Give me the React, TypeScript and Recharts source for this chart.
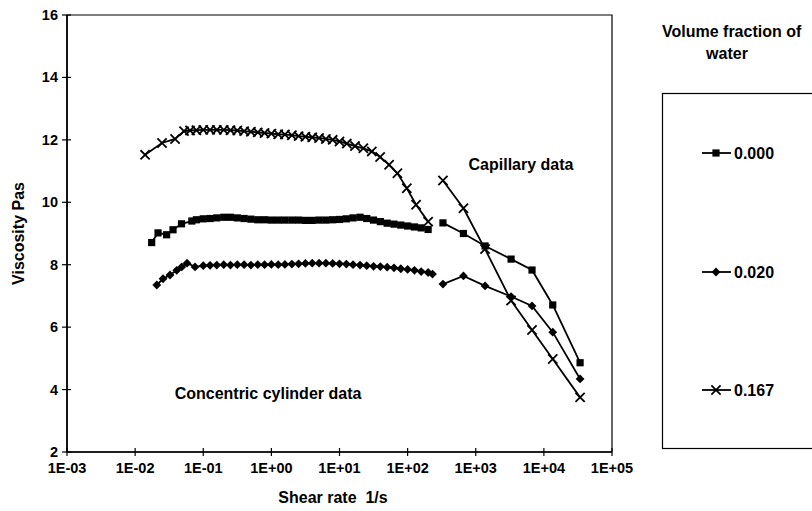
import React from "react"
import { LineChart, Line, XAxis, YAxis, ReferenceArea } from "recharts"

// shear rate ticks (1/s) and viscosity ticks (Pa s)
const xTicks = [1e-3, 1e-2, 1e-1, 1, 1e1, 1e2, 1e3, 1e4, 1e5]
const yTicks = [2, 4, 6, 8, 10, 12, 14, 16]

// concentric cylinder data
const concRate000 = [0.0175, 0.0217, 0.029, 0.036, 0.048, 0.068, 0.0794, 0.1, 0.126, 0.158, 0.2, 0.251, 0.316, 0.398, 0.501, 0.631, 0.794, 1, 1.26, 1.58, 2, 2.51, 3.16, 3.98, 5.01, 6.31, 7.94, 10, 12.6, 15.8, 20, 25.1, 31.6, 39.8, 50.1, 63.1, 79.4, 100, 126, 158, 200]
const concVisc000 = [8.71, 9.02, 8.96, 9.12, 9.31, 9.4, 9.44, 9.47, 9.48, 9.5, 9.52, 9.52, 9.5, 9.48, 9.46, 9.44, 9.44, 9.43, 9.43, 9.43, 9.43, 9.43, 9.42, 9.42, 9.43, 9.43, 9.44, 9.45, 9.47, 9.5, 9.52, 9.48, 9.43, 9.38, 9.33, 9.3, 9.27, 9.24, 9.21, 9.18, 9.13]

const concRate020 = [0.0208, 0.0257, 0.0325, 0.0408, 0.0483, 0.0578, 0.0758, 0.1, 0.126, 0.158, 0.2, 0.251, 0.316, 0.398, 0.501, 0.631, 0.794, 1, 1.26, 1.58, 2, 2.51, 3.16, 3.98, 5.01, 6.31, 7.94, 10, 12.6, 15.8, 20, 25.1, 31.6, 39.8, 50.1, 63.1, 79.4, 100, 126, 158, 200, 232]
const concVisc020 = [7.35, 7.55, 7.67, 7.82, 7.93, 8.05, 7.93, 7.97, 7.98, 7.99, 8.0, 7.99, 8.0, 8.0, 7.99, 8.0, 8.0, 8.01, 8.0, 8.01, 8.02, 8.03, 8.04, 8.05, 8.05, 8.05, 8.04, 8.03, 8.02, 8.0, 7.99, 7.97, 7.95, 7.94, 7.92, 7.9, 7.87, 7.85, 7.82, 7.78, 7.75, 7.7]

const concRate167 = [0.014, 0.0248, 0.0386, 0.0522, 0.0639, 0.0794, 0.1, 0.126, 0.158, 0.2, 0.251, 0.316, 0.398, 0.501, 0.631, 0.794, 1, 1.26, 1.58, 2, 2.51, 3.16, 3.98, 5.01, 6.31, 7.94, 10, 12.8, 16.9, 22.4, 29.8, 39.5, 53.5, 70.8, 97.3, 133, 200]
const concVisc167 = [11.52, 11.9, 12.03, 12.28, 12.3, 12.31, 12.32, 12.32, 12.32, 12.32, 12.31, 12.3, 12.28, 12.26, 12.24, 12.22, 12.2, 12.18, 12.17, 12.15, 12.12, 12.1, 12.08, 12.06, 12.03, 12.0, 11.95, 11.88, 11.8, 11.73, 11.63, 11.45, 11.2, 10.93, 10.45, 9.92, 9.38]

// capillary data
const capRate = [330, 660, 1370, 3300, 6700, 13500, 34000]
const capVisc000 = [9.34, 9.0, 8.6, 8.18, 7.83, 6.71, 4.86]
const capVisc020 = [7.38, 7.64, 7.32, 6.98, 6.68, 5.84, 4.34]
const capVisc167 = [10.7, 9.81, 8.5, 6.85, 5.91, 4.98, 3.75]

const seriesNames = ["0.000", "0.020", "0.167"]

const FONT = '"Liberation Sans", Arial, Helvetica, sans-serif'
const LEFT = 67
const TOP = 15
const RIGHT = 612
const BOTTOM = 452
const Y_AXIS_W = 40
const X_AXIS_H = 30

const toPoints = (xs: number[], ys: number[]) => xs.map((x, i) => ({ x, y: ys[i] }))

function Square({ cx, cy }: { cx: number; cy: number }) {
  return <rect x={cx - 3.6} y={cy - 3.6} width={7.2} height={7.2} fill="#000" />
}
function Diamond({ cx, cy }: { cx: number; cy: number }) {
  return <path d={`M${cx},${cy - 4.4}L${cx + 4.4},${cy}L${cx},${cy + 4.4}L${cx - 4.4},${cy}Z`} fill="#000" />
}
function Cross({ cx, cy }: { cx: number; cy: number }) {
  const r = 4.6
  return (
    <path
      d={`M${cx - r},${cy - r}L${cx + r},${cy + r}M${cx - r},${cy + r}L${cx + r},${cy - r}`}
      stroke="#000"
      strokeWidth={1.8}
      fill="none"
    />
  )
}

const markers = [Square, Diamond, Cross]

const makeDot = (kind: number, tag: string) => (p: any) => {
  const M = markers[kind]
  if (p.cx == null || p.cy == null) return <g key={`${tag}-${p.index}`} />
  return (
    <g key={`${tag}-${p.index}`}>
      <M cx={p.cx} cy={p.cy} />
    </g>
  )
}

const fmtRate = (v: number) => {
  const e = Math.round(Math.log10(v))
  return `1E${e < 0 ? "-" : "+"}${String(Math.abs(e)).padStart(2, "0")}`
}

function XTick(props: any) {
  const { x, payload } = props
  return (
    <g>
      <line x1={x} x2={x} y1={BOTTOM - 4} y2={BOTTOM + 4} stroke="#000" strokeWidth={1.2} />
      <text x={x} y={468} textAnchor="middle" dominantBaseline="central" fontFamily={FONT} fontWeight="bold" fontSize={14.5} fill="#000">
        {fmtRate(payload.value)}
      </text>
    </g>
  )
}

function YTick(props: any) {
  const { y, payload } = props
  return (
    <g>
      <line x1={LEFT - 5} x2={LEFT + 4} y1={y} y2={y} stroke="#000" strokeWidth={1.2} />
      <text x={LEFT - 9} y={y} textAnchor="end" dominantBaseline="central" fontFamily={FONT} fontWeight="bold" fontSize={14.5} fill="#000">
        {payload.value}
      </text>
    </g>
  )
}

const segments = [
  { kind: 0, conc: toPoints(concRate000, concVisc000), cap: toPoints(capRate, capVisc000) },
  { kind: 1, conc: toPoints(concRate020, concVisc020), cap: toPoints(capRate, capVisc020) },
  { kind: 2, conc: toPoints(concRate167, concVisc167), cap: toPoints(capRate, capVisc167) },
]

const legendRows = [153, 272, 390]

export default function App() {
  return (
    <div style={{ position: "absolute", left: 0, top: 0, width: 812, height: 511, overflow: "hidden", background: "#fff" }}>
      <LineChart
        width={812}
        height={511}
        margin={{ top: TOP, right: 812 - RIGHT, bottom: 511 - BOTTOM - X_AXIS_H, left: LEFT - Y_AXIS_W }}
      >
        <XAxis
          dataKey="x"
          type="number"
          scale="log"
          domain={[1e-3, 1e5]}
          ticks={xTicks}
          allowDataOverflow
          height={X_AXIS_H}
          axisLine={{ stroke: "#000", strokeWidth: 1.6 }}
          tickLine={false}
          tick={<XTick />}
          interval={0}
        />
        <YAxis
          dataKey="y"
          type="number"
          domain={[2, 16]}
          ticks={yTicks}
          allowDataOverflow
          width={Y_AXIS_W}
          axisLine={{ stroke: "#000", strokeWidth: 1.6 }}
          tickLine={false}
          tick={<YTick />}
          interval={0}
        />
        <ReferenceArea x1={1e-3} x2={1e5} y1={2} y2={16} fill="none" stroke="#000" strokeWidth={1.2} ifOverflow="visible" />
        {segments.map((s, i) => (
          <Line
            key={`conc-${i}`}
            data={s.conc}
            dataKey="y"
            stroke="#000"
            strokeWidth={1.8}
            dot={makeDot(s.kind, `c${i}`)}
            activeDot={false}
            isAnimationActive={false}
            legendType="none"
          />
        ))}
        {segments.map((s, i) => (
          <Line
            key={`cap-${i}`}
            data={s.cap}
            dataKey="y"
            stroke="#000"
            strokeWidth={1.8}
            dot={makeDot(s.kind, `p${i}`)}
            activeDot={false}
            isAnimationActive={false}
            legendType="none"
          />
        ))}
      </LineChart>

      <svg width={812} height={511} style={{ position: "absolute", left: 0, top: 0, pointerEvents: "none" }} fontFamily={FONT}>
        <text x={18} y={(TOP + BOTTOM) / 2} transform={`rotate(-90 18 ${(TOP + BOTTOM) / 2})`} textAnchor="middle" dominantBaseline="central" fontWeight="bold" fontSize={16}>
          Viscosity Pas
        </text>
        <text x={333} y={497} textAnchor="middle" dominantBaseline="central" fontWeight="bold" fontSize={16} style={{ whiteSpace: "pre" }}>
          {"Shear rate  1/s"}
        </text>
        <text x={521} y={164} textAnchor="middle" dominantBaseline="central" fontSize={16} fontWeight="bold">
          Capillary data
        </text>
        <text x={268} y={393} textAnchor="middle" dominantBaseline="central" fontSize={16} fontWeight="bold">
          Concentric cylinder data
        </text>

        <text x={662} y={31} dominantBaseline="central" fontWeight="bold" fontSize={16}>
          Volume fraction of
        </text>
        <text x={727} y={53} textAnchor="middle" dominantBaseline="central" fontWeight="bold" fontSize={16}>
          water
        </text>
        <rect x={662.5} y={93.5} width={220} height={355} fill="none" stroke="#000" strokeWidth={1.2} />
        {seriesNames.map((name, i) => {
          const y = legendRows[i]
          const M = markers[i]
          return (
            <g key={name}>
              <line x1={702} x2={731} y1={y} y2={y} stroke="#000" strokeWidth={1.8} />
              <M cx={716} cy={y} />
              <text x={734} y={y} dominantBaseline="central" fontWeight="bold" fontSize={16}>
                {name}
              </text>
            </g>
          )
        })}
      </svg>
    </div>
  )
}
